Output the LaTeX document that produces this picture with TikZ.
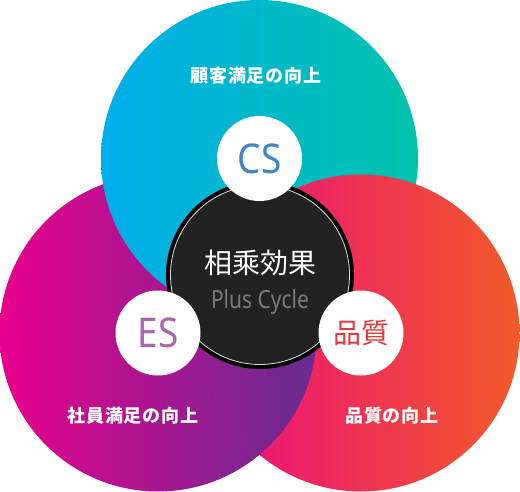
\documentclass[tikz,border=0pt]{standalone}
\usepackage{fontspec}
\setmainfont{Noto Sans}
\newfontfamily\cjkfont{Noto Sans CJK JP}
\newfontfamily\badgefont[FakeStretch=0.9]{Noto Sans}
\newfontfamily\cyclefont[FakeStretch=0.84]{Noto Sans}
\usetikzlibrary{positioning}
\definecolor{cscyan}{HTML}{00AEEA}
\definecolor{csteal}{HTML}{00C3AB}
\definecolor{esmagenta}{HTML}{E8008E}
\definecolor{espurple}{HTML}{662D91}
\definecolor{qpink}{HTML}{EC0A7E}
\definecolor{qorange}{HTML}{F15A29}
\definecolor{coregray}{HTML}{222222}
\definecolor{csblue}{HTML}{3D85C6}
\definecolor{eslilac}{HTML}{A767AE}
\definecolor{qred}{HTML}{E8383D}
\definecolor{subgray}{HTML}{7A7A7A}

\begin{document}
\begin{tikzpicture}[x=1pt, y=-1pt,
  field/.style={circle, inner sep=0pt, outer sep=0pt, minimum size=317pt},
  badge/.style={circle, fill=white, inner sep=0pt, outer sep=0pt, minimum size=85pt},
  caption/.style={text=white, inner sep=0pt, font=\cjkfont\bfseries\fontsize{18}{20}\selectfont\addfontfeatures{LetterSpace=5}},
]
\useasboundingbox (0,0) rectangle (520,492);
% three overlapping fields
\node[field, left color=esmagenta, right color=espurple] (lft) at (158,333) {};
\node[field, left color=cscyan, right color=csteal] (top) at (259.5,158.5) {};
\node[field, left color=qpink, right color=qorange] (rgt) at (361,333) {};
\begin{scope}
  \clip (rgt.center) circle (158.5pt);
  \shade[left color=esmagenta, right color=espurple] (lft.center) circle (158.5pt);
\end{scope}
% core
\node[circle, fill=coregray, draw=black, line width=4pt, minimum size=184pt, inner sep=0pt] (core) at (260,275) {};
\draw[white!85!black, line width=0.8pt] (core.center) circle (89.5pt);
\node[text=white, font=\cjkfont\fontsize{28}{30}\selectfont] (synergy) at (260,263) {相乘効果};
\node[text=subgray, font=\cyclefont\fontsize{25}{28}\selectfont] (plus) at (260,301.5) {Plus Cycle};
% badges
\node[badge, text=csblue, font=\badgefont\fontsize{41}{41}\selectfont] (cs) at (top.center) {CS};
\node[badge, text=eslilac, font=\badgefont\fontsize{41}{41}\selectfont] (es) at (lft.center) {ES};
\node[badge, text=qred, font=\cjkfont\fontsize{28}{28}\selectfont] (q) at (rgt.center) {品質};
% captions
\node[caption] (cslabel) at (256,76) {顧客満足の向上};
\node[caption] (eslabel) at (133,416) {社員満足の向上};
\node[caption] (qlabel) at (392,416) {品質の向上};
\end{tikzpicture}
\end{document}
